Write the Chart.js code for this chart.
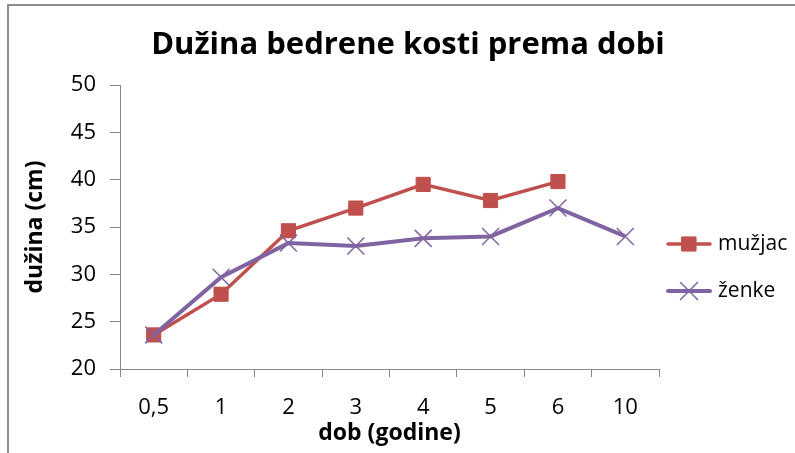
<!DOCTYPE html>
<html>
<head>
<meta charset="utf-8">
<script src="https://cdn.jsdelivr.net/npm/chart.js@4"></script>
<style>
  html, body { margin: 0; padding: 0; background: #fff; }
  #wrap { position: relative; width: 795px; height: 453px; }
</style>
</head>
<body>
<div id="wrap"><canvas id="chart" width="795" height="453"></canvas></div>
<script>
// Chart data
const chartTitle = 'Dužina bedrene kosti prema dobi';
const ageLabels = ['0,5', '1', '2', '3', '4', '5', '6', '10'];
const maleLengths = [23.6, 27.9, 34.6, 37.0, 39.5, 37.8, 39.8, null];
const femaleLengths = [23.6, 29.7, 33.3, 33.0, 33.8, 34.0, 37.0, 34.0];
const yTicks = [20, 25, 30, 35, 40, 45, 50];

const FONT = "'Open Sans', sans-serif";
const AXIS_GRAY = '#868686';

// White background plus the outer frame (only top and left edges show)
const framePlugin = {
  id: 'frame',
  beforeDraw(chart) {
    const ctx = chart.ctx;
    ctx.save();
    ctx.fillStyle = '#fff';
    ctx.fillRect(0, 0, chart.width, chart.height);
    ctx.strokeStyle = '#8c8c8c';
    ctx.lineWidth = 2;
    ctx.beginPath();
    ctx.moveTo(8, chart.height);
    ctx.lineTo(8, 5);
    ctx.lineTo(chart.width, 5);
    ctx.stroke();
    ctx.restore();
  }
};

// Title is drawn by hand so it can sit centred over the whole picture
const titlePlugin = {
  id: 'centredTitle',
  afterDraw(chart) {
    const ctx = chart.ctx;
    ctx.save();
    ctx.fillStyle = '#000';
    ctx.font = 'bold 31px ' + FONT;
    ctx.textAlign = 'center';
    ctx.textBaseline = 'middle';
    ctx.fillText(chartTitle, 408, 45);
    ctx.restore();
  }
};

// Excel-style legend: a short line with the marker in the middle
const lineLegendPlugin = {
  id: 'lineLegend',
  afterDraw(chart) {
    const ctx = chart.ctx;
    const x0 = 668, len = 42, rowY = [244, 291];
    chart.data.datasets.forEach((ds, i) => {
      const y = rowY[i];
      ctx.save();
      ctx.strokeStyle = ds.borderColor;
      ctx.lineWidth = ds.borderWidth;
      ctx.lineCap = 'round';
      ctx.beginPath();
      ctx.moveTo(x0, y);
      ctx.lineTo(x0 + len, y);
      ctx.stroke();
      ctx.fillStyle = ds.pointBackgroundColor || ds.borderColor;
      ctx.strokeStyle = ds.pointBorderColor;
      ctx.lineWidth = ds.pointBorderWidth;
      Chart.helpers.drawPoint(ctx, {
        pointStyle: ds.pointStyle,
        radius: ds.pointRadius,
        borderWidth: ds.pointBorderWidth
      }, x0 + len / 2, y);
      ctx.fillStyle = '#000';
      ctx.font = '21px ' + FONT;
      ctx.textBaseline = 'middle';
      ctx.fillText(ds.label, x0 + len + 8, y);
      ctx.restore();
    });
  }
};

const ctx = document.getElementById('chart').getContext('2d');
const chart = new Chart(ctx, {
  type: 'line',
  data: {
    labels: ageLabels,
    datasets: [
      {
        label: 'mužjac',
        data: maleLengths,
        order: 1,
        borderColor: '#C0504D',
        backgroundColor: '#C0504D',
        borderWidth: 3.5,
        pointStyle: 'rect',
        pointRadius: 10,
        pointBorderWidth: 1,
        pointBackgroundColor: '#C0504D',
        pointBorderColor: '#C0504D',
        tension: 0,
        spanGaps: false
      },
      {
        label: 'ženke',
        data: femaleLengths,
        order: 0,
        borderColor: '#8064A2',
        backgroundColor: '#8064A2',
        borderWidth: 4,
        pointStyle: 'crossRot',
        pointRadius: 12,
        pointBorderWidth: 1.5,
        pointBorderColor: '#8064A2',
        tension: 0
      }
    ]
  },
  options: {
    responsive: false,
    animation: false,
    devicePixelRatio: 1,
    layout: {
      padding: { top: 85, right: 136, bottom: 4, left: 8 }
    },
    plugins: {
      legend: { display: false },
      tooltip: { enabled: false },
      title: { display: false }
    },
    scales: {
      x: {
        type: 'category',
        offset: true,
        border: { color: AXIS_GRAY, width: 1 },
        grid: {
          offset: true,
          drawOnChartArea: false,
          drawTicks: true,
          tickLength: 8,
          color: AXIS_GRAY
        },
        afterFit(scale) {
          scale.height = 80;
        },
        ticks: {
          color: '#000',
          padding: 18,
          maxRotation: 0,
          font: { family: FONT, size: 22 }
        },
        title: {
          display: true,
          text: 'dob (godine)',
          color: '#000',
          padding: { top: 0, bottom: 2 },
          font: { family: FONT, size: 23, weight: 'bold' }
        }
      },
      y: {
        min: 20,
        max: 50,
        border: { color: AXIS_GRAY, width: 1 },
        grid: {
          drawOnChartArea: false,
          drawTicks: true,
          tickLength: 10,
          color: AXIS_GRAY
        },
        afterBuildTicks(scale) {
          scale.ticks = yTicks.map(v => ({ value: v }));
        },
        afterFit(scale) {
          scale.width = 112;
        },
        ticks: {
          color: '#000',
          padding: 14,
          font: { family: FONT, size: 22 }
        },
        title: {
          display: true,
          text: 'dužina (cm)',
          color: '#000',
          padding: { top: 14, bottom: 0 },
          font: { family: FONT, size: 23, weight: 'bold' }
        }
      }
    }
  },
  plugins: [framePlugin, titlePlugin, lineLegendPlugin]
});
</script>
</body>
</html>
